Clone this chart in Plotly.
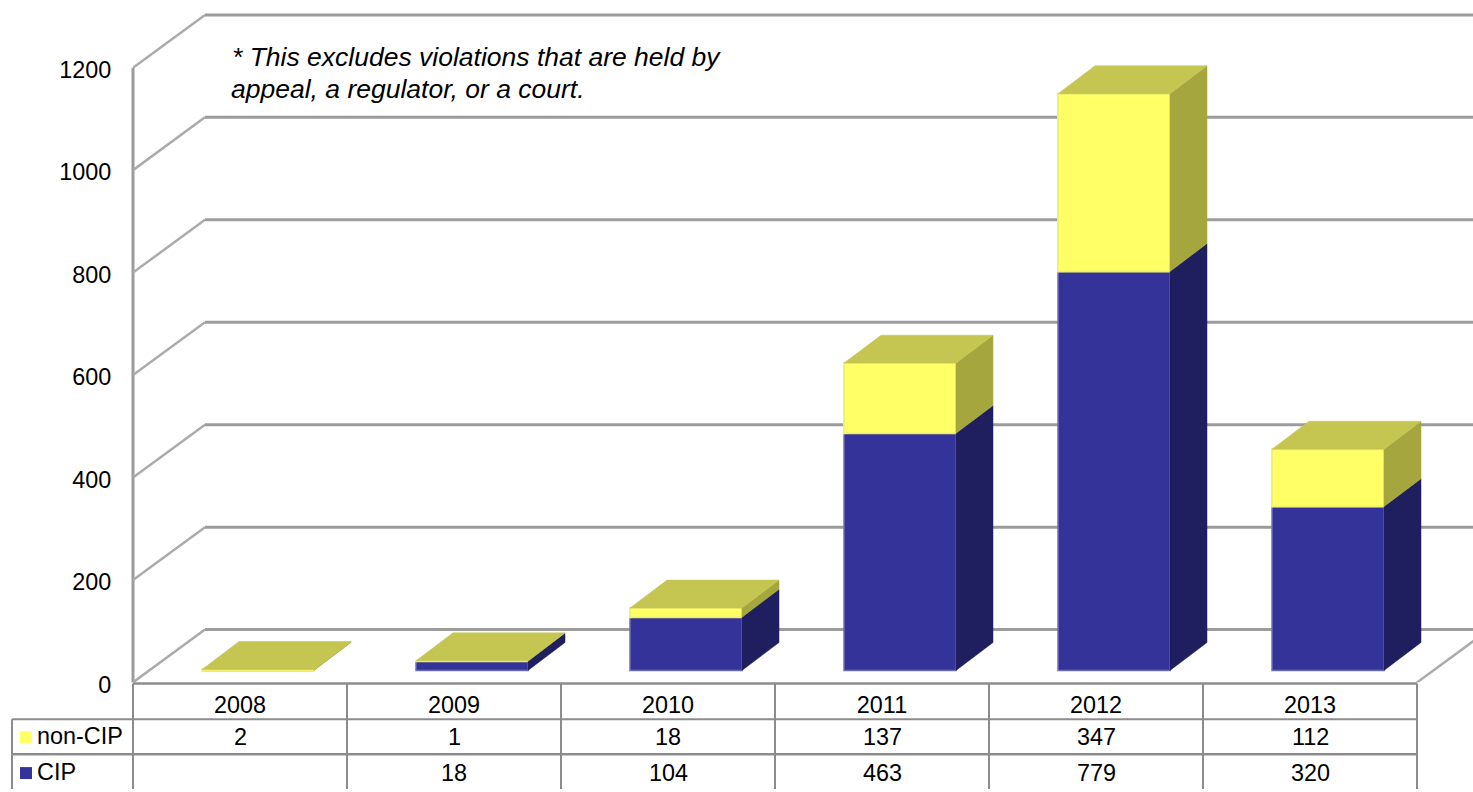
import plotly.graph_objects as go

# ---- data ----
years = ["2008", "2009", "2010", "2011", "2012", "2013"]
non_cip = [2, 1, 18, 137, 347, 112]
cip = [None, 18, 104, 463, 779, 320]
y_ticks = [0, 200, 400, 600, 800, 1000, 1200]
note_lines = ["* This excludes violations that are held by", "appeal, a regulator, or a court."]

# ---- canvas geometry ----
W, H = 1473, 792
FIG_H = 804            # layout height, tuned against the returned picture
LEFT, ZERO_Y = 133, 685
CAT_PX = 214.0
VAL_PX = 0.5142
px_x = lambda p: p / CAT_PX          # horizontal pixels -> category units
px_y = lambda p: p / VAL_PX          # vertical pixels -> value units
paper_x = lambda p: p / W
paper_y = lambda p: 1 - p / H

X_MAX = px_x(W - LEFT)
WALL_DX, WALL_DY = px_x(72), px_y(53)
FRONT_DX, FRONT_DY = px_x(18), px_y(12)
DEPTH_DX, DEPTH_DY = px_x(37), px_y(28)
BAR_W = px_x(112)

NAVY, NAVY_SIDE = "#333399", "#1F1F60"
YEL, YEL_SIDE, YEL_TOP = "#FFFF66", "#A6A63E", "#C5C552"
GRID = "#9C9C9C"
TABLE = "#8C8C8C"
FONT = "Liberation Sans"
SIZE = 23.4

centers = [i + 0.5 for i in range(len(years))]
bar_x = [c + FRONT_DX for c in centers]
cip_base = [FRONT_DY] * len(years)
cip_h = [v or 0 for v in cip]
non_base = [FRONT_DY + h for h in cip_h]
tops = [b + v for b, v in zip(non_base, non_cip)]


def side_polys(bases, values):
    xs, ys = [], []
    for x, b, v in zip(bar_x, bases, values):
        if not v:
            continue
        r = x + BAR_W / 2
        xs += [r, r + DEPTH_DX, r + DEPTH_DX, r, r, None]
        ys += [b, b + DEPTH_DY, b + v + DEPTH_DY, b + v, b, None]
    return xs, ys


def top_polys():
    xs, ys = [], []
    for x, t in zip(bar_x, tops):
        l, r = x - BAR_W / 2, x + BAR_W / 2
        xs += [l, r, r + DEPTH_DX, l + DEPTH_DX, l, None]
        ys += [t, t, t + DEPTH_DY, t + DEPTH_DY, t, None]
    return xs, ys


def poly(xy, color):
    return go.Scatter(x=xy[0], y=xy[1], mode="lines", fill="toself", fillcolor=color,
                      line=dict(color=color, width=0.5), hoverinfo="skip", showlegend=False)


fig = go.Figure()
fig.add_trace(go.Bar(x=bar_x, y=cip_h, base=cip_base, width=BAR_W, name="CIP",
                     marker=dict(color=NAVY, line=dict(color="#6F6FB5", width=1.5))))
fig.add_trace(go.Bar(x=bar_x, y=non_cip, base=non_base, width=BAR_W, name="non-CIP",
                     marker=dict(color=YEL, line=dict(color="#F2F26A", width=2))))
fig.add_trace(poly(side_polys(cip_base, cip_h), NAVY_SIDE))
fig.add_trace(poly(side_polys(non_base, non_cip), YEL_SIDE))
fig.add_trace(poly(top_polys(), YEL_TOP))

shapes = []
# walls: diagonal + back horizontal for each tick value
for v in y_ticks:
    shapes.append(dict(type="line", xref="x", yref="y", x0=0, y0=v, x1=WALL_DX, y1=v + WALL_DY,
                       line=dict(color="#ABABAB", width=2.5), layer="below"))
    shapes.append(dict(type="line", xref="x", yref="y", x0=WALL_DX, y0=v + WALL_DY, x1=X_MAX, y1=v + WALL_DY,
                       line=dict(color=GRID, width=3), layer="below"))
# right floor edge
shapes.append(dict(type="line", xref="x", yref="y", x0=len(years), y0=0,
                   x1=len(years) + WALL_DX, y1=WALL_DY,
                   line=dict(color="#ABABAB", width=2.5), layer="below"))
# left axis
shapes.append(dict(type="line", xref="paper", yref="y", x0=paper_x(LEFT), x1=paper_x(LEFT),
                   y0=0, y1=y_ticks[-1], line=dict(color=GRID, width=3), layer="below"))


def tline(x0, y0, x1, y1, width=2):
    shapes.append(dict(type="line", xref="paper", yref="paper", x0=paper_x(x0), x1=paper_x(x1),
                       y0=paper_y(y0), y1=paper_y(y1), line=dict(color=TABLE, width=width)))


# data table grid
TABLE_TOP, ROW1, ROW2, TABLE_LEFT = 686, 722, 757, 12
tline(LEFT, TABLE_TOP, LEFT + CAT_PX * len(years), TABLE_TOP, 2.5)
tline(TABLE_LEFT, ROW1, LEFT + CAT_PX * len(years), ROW1)
tline(TABLE_LEFT, ROW2, LEFT + CAT_PX * len(years), ROW2, 2.5)
tline(TABLE_LEFT, ROW1, TABLE_LEFT, H)
for i in range(len(years) + 1):
    tline(LEFT + CAT_PX * i, TABLE_TOP, LEFT + CAT_PX * i, H)

annotations = []


def cell(text, x, xref, y_px, anchor="center", size=SIZE):
    annotations.append(dict(text=text, x=x, xref=xref, y=paper_y(y_px), yref="paper", xanchor=anchor,
                            yanchor="middle", showarrow=False, font=dict(family=FONT, size=size, color="black")))


for c, n, v in zip(centers, non_cip, cip):
    cell(str(n), c, "x", 740)
    if v is not None:
        cell(str(v), c, "x", 776)
cell("non-CIP", paper_x(35), "paper", 739, "left")
cell("CIP", paper_x(35), "paper", 775, "left")
for color, y0 in ((YEL, 734), (NAVY, 770)):
    shapes.append(dict(type="rect", xref="paper", yref="paper", x0=paper_x(20), x1=paper_x(32),
                       y0=paper_y(y0), y1=paper_y(y0 + 12), fillcolor=color, line=dict(width=0)))

for line, (nx, ny) in zip(note_lines, ((230, 57), (229, 89))):
    cell("<i>" + line + "</i>", paper_x(nx), "paper", ny, "left", 26.5)

fig.update_layout(
    width=W, height=FIG_H, autosize=False, showlegend=False, barmode="overlay",
    paper_bgcolor="white", plot_bgcolor="white",
    margin=dict(l=0, r=0, t=0, b=0),
    font=dict(family=FONT, size=SIZE, color="black"),
    shapes=shapes, annotations=annotations,
    xaxis=dict(domain=[paper_x(LEFT), 1], range=[0, X_MAX], tickmode="array", tickvals=centers,
               ticktext=years, ticks="outside", ticklen=2, tickcolor="rgba(0,0,0,0)",
               showgrid=False, zeroline=False, showline=False, tickangle=0),
    yaxis=dict(domain=[paper_y(ZERO_Y), 1], range=[0, ZERO_Y / VAL_PX], tickmode="array",
               tickvals=y_ticks, ticks="outside", ticklen=16, tickcolor="rgba(0,0,0,0)",
               ticklabelshift=2,
               showgrid=False, zeroline=False, showline=False),
)
fig.write_html("out.html", post_script="document.body.style.margin='0';",
               config={"displayModeBar": False})
